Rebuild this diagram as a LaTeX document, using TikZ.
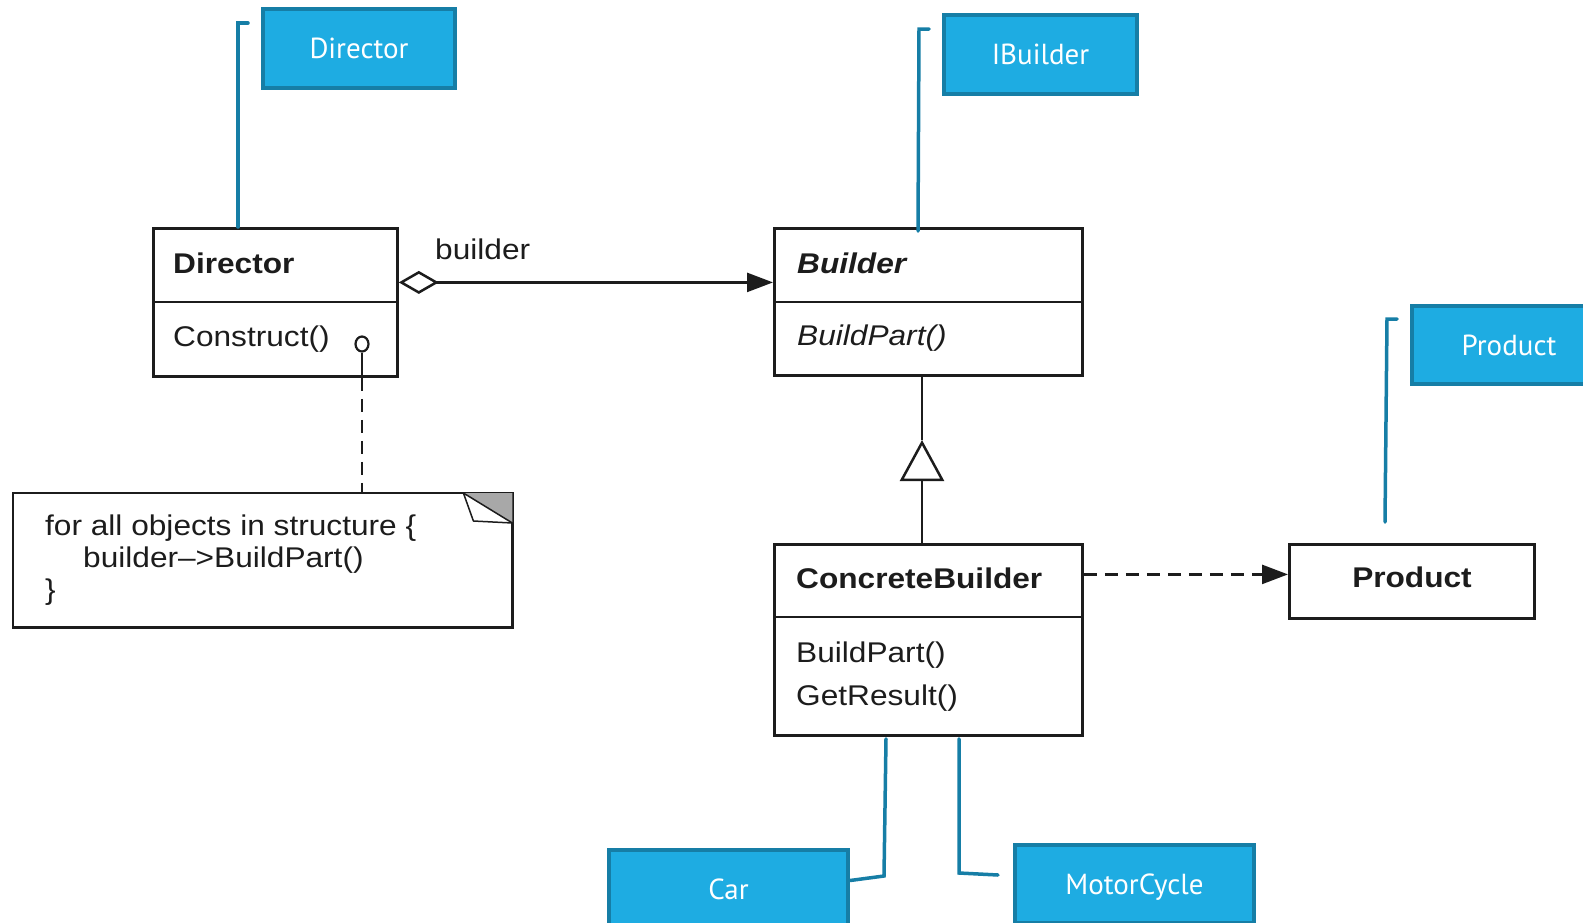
\documentclass[tikz,border=0pt]{standalone}
\usepackage{fontspec}
\setmainfont{Liberation Sans}[FakeStretch=1.11]
\newfontfamily\tagfont{PT Sans}
\usetikzlibrary{arrows.meta,shapes.geometric}
\definecolor{tagfill}{RGB}{30,172,226}
\definecolor{tagedge}{RGB}{22,126,166}
\definecolor{umlline}{RGB}{28,28,28}
\definecolor{foldgrey}{RGB}{168,168,168}

\tikzset{
  umlbox/.style={draw=umlline, line width=2.8pt, inner sep=0pt, anchor=north west},
  umltext/.style={anchor=base west, inner sep=0pt, text=umlline,
                  font=\fontsize{28.5}{32}\selectfont},
  tagbox/.style={draw=tagedge, fill=tagfill, line width=4pt, inner sep=0pt,
                 anchor=north west, text=white, text height=20pt, text depth=0pt,
                 font=\tagfont\fontsize{29}{32}\selectfont},
  leader/.style={draw=tagedge, line width=3.5pt, line cap=round, line join=miter},
  umlconn/.style={draw=umlline, line width=2.5pt},
  dashconn/.style={umlconn, dash pattern=on 13pt off 8pt},
}

\begin{document}
\begin{tikzpicture}[x=1pt,y=-1pt]
\useasboundingbox (0,0) rectangle (1583,922);
\clip (0,0) rectangle (1583,922);

% class boxes
\node[umlbox, minimum width=244pt, minimum height=148pt] (director) at (152,227) {};
\draw[umlconn] ([yshift=-75pt]director.north west) -- ([yshift=-75pt]director.north east);
\node[umltext, font=\fontsize{28.5}{32}\selectfont\bfseries] (dirname) at (173,273) {Director};
\node[umltext] (construct) at (173,346) {Construct()};

\node[umlbox, minimum width=308pt, minimum height=147pt] (builder) at (773,227) {};
\draw[umlconn] ([yshift=-75pt]builder.north west) -- ([yshift=-75pt]builder.north east);
\node[umltext, font=\fontsize{28.5}{32}\selectfont\bfseries\itshape] (bname) at (797,273) {Builder};
\node[umltext, font=\fontsize{28.5}{32}\selectfont\itshape] (bpart) at (797,345) {BuildPart()};

\node[umlbox, minimum width=308pt, minimum height=191pt] (concrete) at (773,543) {};
\draw[umlconn] ([yshift=-74pt]concrete.north west) -- ([yshift=-74pt]concrete.north east);
\node[umltext, font=\fontsize{28.5}{32}\selectfont\bfseries] (cname) at (796,588) {ConcreteBuilder};
\node[umltext] (cpart) at (796,662) {BuildPart()};
\node[umltext] (cresult) at (796,705) {GetResult()};

\node[umlbox, minimum width=245pt, minimum height=74pt] (product) at (1288,543) {};
\node[umltext, anchor=base, font=\fontsize{28.5}{32}\selectfont\bfseries] (pname) at (1412,587) {Product};

% note with folded corner
\node[anchor=north west, inner sep=0pt, minimum width=499pt, minimum height=134pt] (note) at (13,493) {};
\draw[umlconn, line width=2.8pt, line join=miter] (note.north west) rectangle (note.south east);
\fill[foldgrey] ([xshift=-49pt]note.north east) -- (note.north east) -- ([yshift=-30pt]note.north east) -- cycle;
\draw[draw=umlline, line width=1.5pt, fill=white, line join=round]
  ([xshift=-49pt]note.north east) -- ([xshift=-39pt,yshift=-28pt]note.north east)
  -- ([yshift=-30pt]note.north east) -- cycle;
\node[umltext] (n1) at (45,535) {for all objects in structure \{};
\node[umltext] (n2) at (83,567) {builder–>BuildPart()};
\node[umltext] (n3) at (45,599) {\}};

% note attachment
\node[ellipse, draw=umlline, line width=2.2pt, fill=white, minimum width=13pt, minimum height=15pt, inner sep=0pt] (hook) at (362,344) {};
\draw[umlconn] (hook.south) -- (hook |- director.south);
\draw[dashconn] (hook |- director.south) -- (hook |- note.north);

% aggregation Director -> Builder
\draw[umlconn, {Diamond[fill=white,length=40pt,width=23pt]}-{Triangle[length=26pt,width=19pt]}]
  ([yshift=20pt]director.east) -- ([yshift=20pt]director.east -| builder.west);
\node[umltext] (rolename) at (435,259) {builder};

% generalization ConcreteBuilder -> Builder
\coordinate (apex) at (922,440);
\draw[umlconn] (builder.south -| apex) -- (apex);
\draw[umlconn, -{Triangle[fill=white,length=41pt,width=44pt]}] (concrete.north -| apex) -- (apex);

% creates Product
\draw[dashconn, -{Triangle[length=26pt,width=19pt]}]
  ([yshift=7pt]product.west -| concrete.east) -- ([yshift=7pt]product.west);

% callout tags
\node[tagbox, minimum width=192pt, minimum height=79pt] (tdirector) at (261,7) {Director};
\node[tagbox, minimum width=193pt, minimum height=79pt] (tbuilder) at (942,13) {IBuilder};
\node[tagbox, minimum width=194pt, minimum height=78pt] (tproduct) at (1410,304) {Product};
\node[tagbox, minimum width=239pt, minimum height=79pt] (tcar) at (607,848) {Car};
\node[tagbox, minimum width=239pt, minimum height=78pt] (tmotor) at (1013,843) {MotorCycle};

% leaders
\coordinate (ldir) at (238,23);
\draw[leader] ([xshift=86pt]director.north west) -- (ldir) -- ++(10,0);
\coordinate (lbld) at (919,29);
\draw[leader] ([xshift=145pt,yshift=-4pt]builder.north west) -- (lbld) -- ++(10,0);
\coordinate (lprodbot) at (1385,522);
\coordinate (lprod) at (1387,319);
\draw[leader] (lprodbot) -- (lprod) -- ++(10,0);
\coordinate (lcar) at (884,876);
\draw[leader] ([xshift=113pt,yshift=-2pt]concrete.south west) -- (lcar) -- ([yshift=9pt]tcar.east);
\coordinate (lmot) at (959,873);
\draw[leader] ([xshift=186pt,yshift=-2pt]concrete.south west) -- (lmot) -- ([xshift=-15pt,yshift=9pt]tmotor.west);
\end{tikzpicture}
\end{document}
